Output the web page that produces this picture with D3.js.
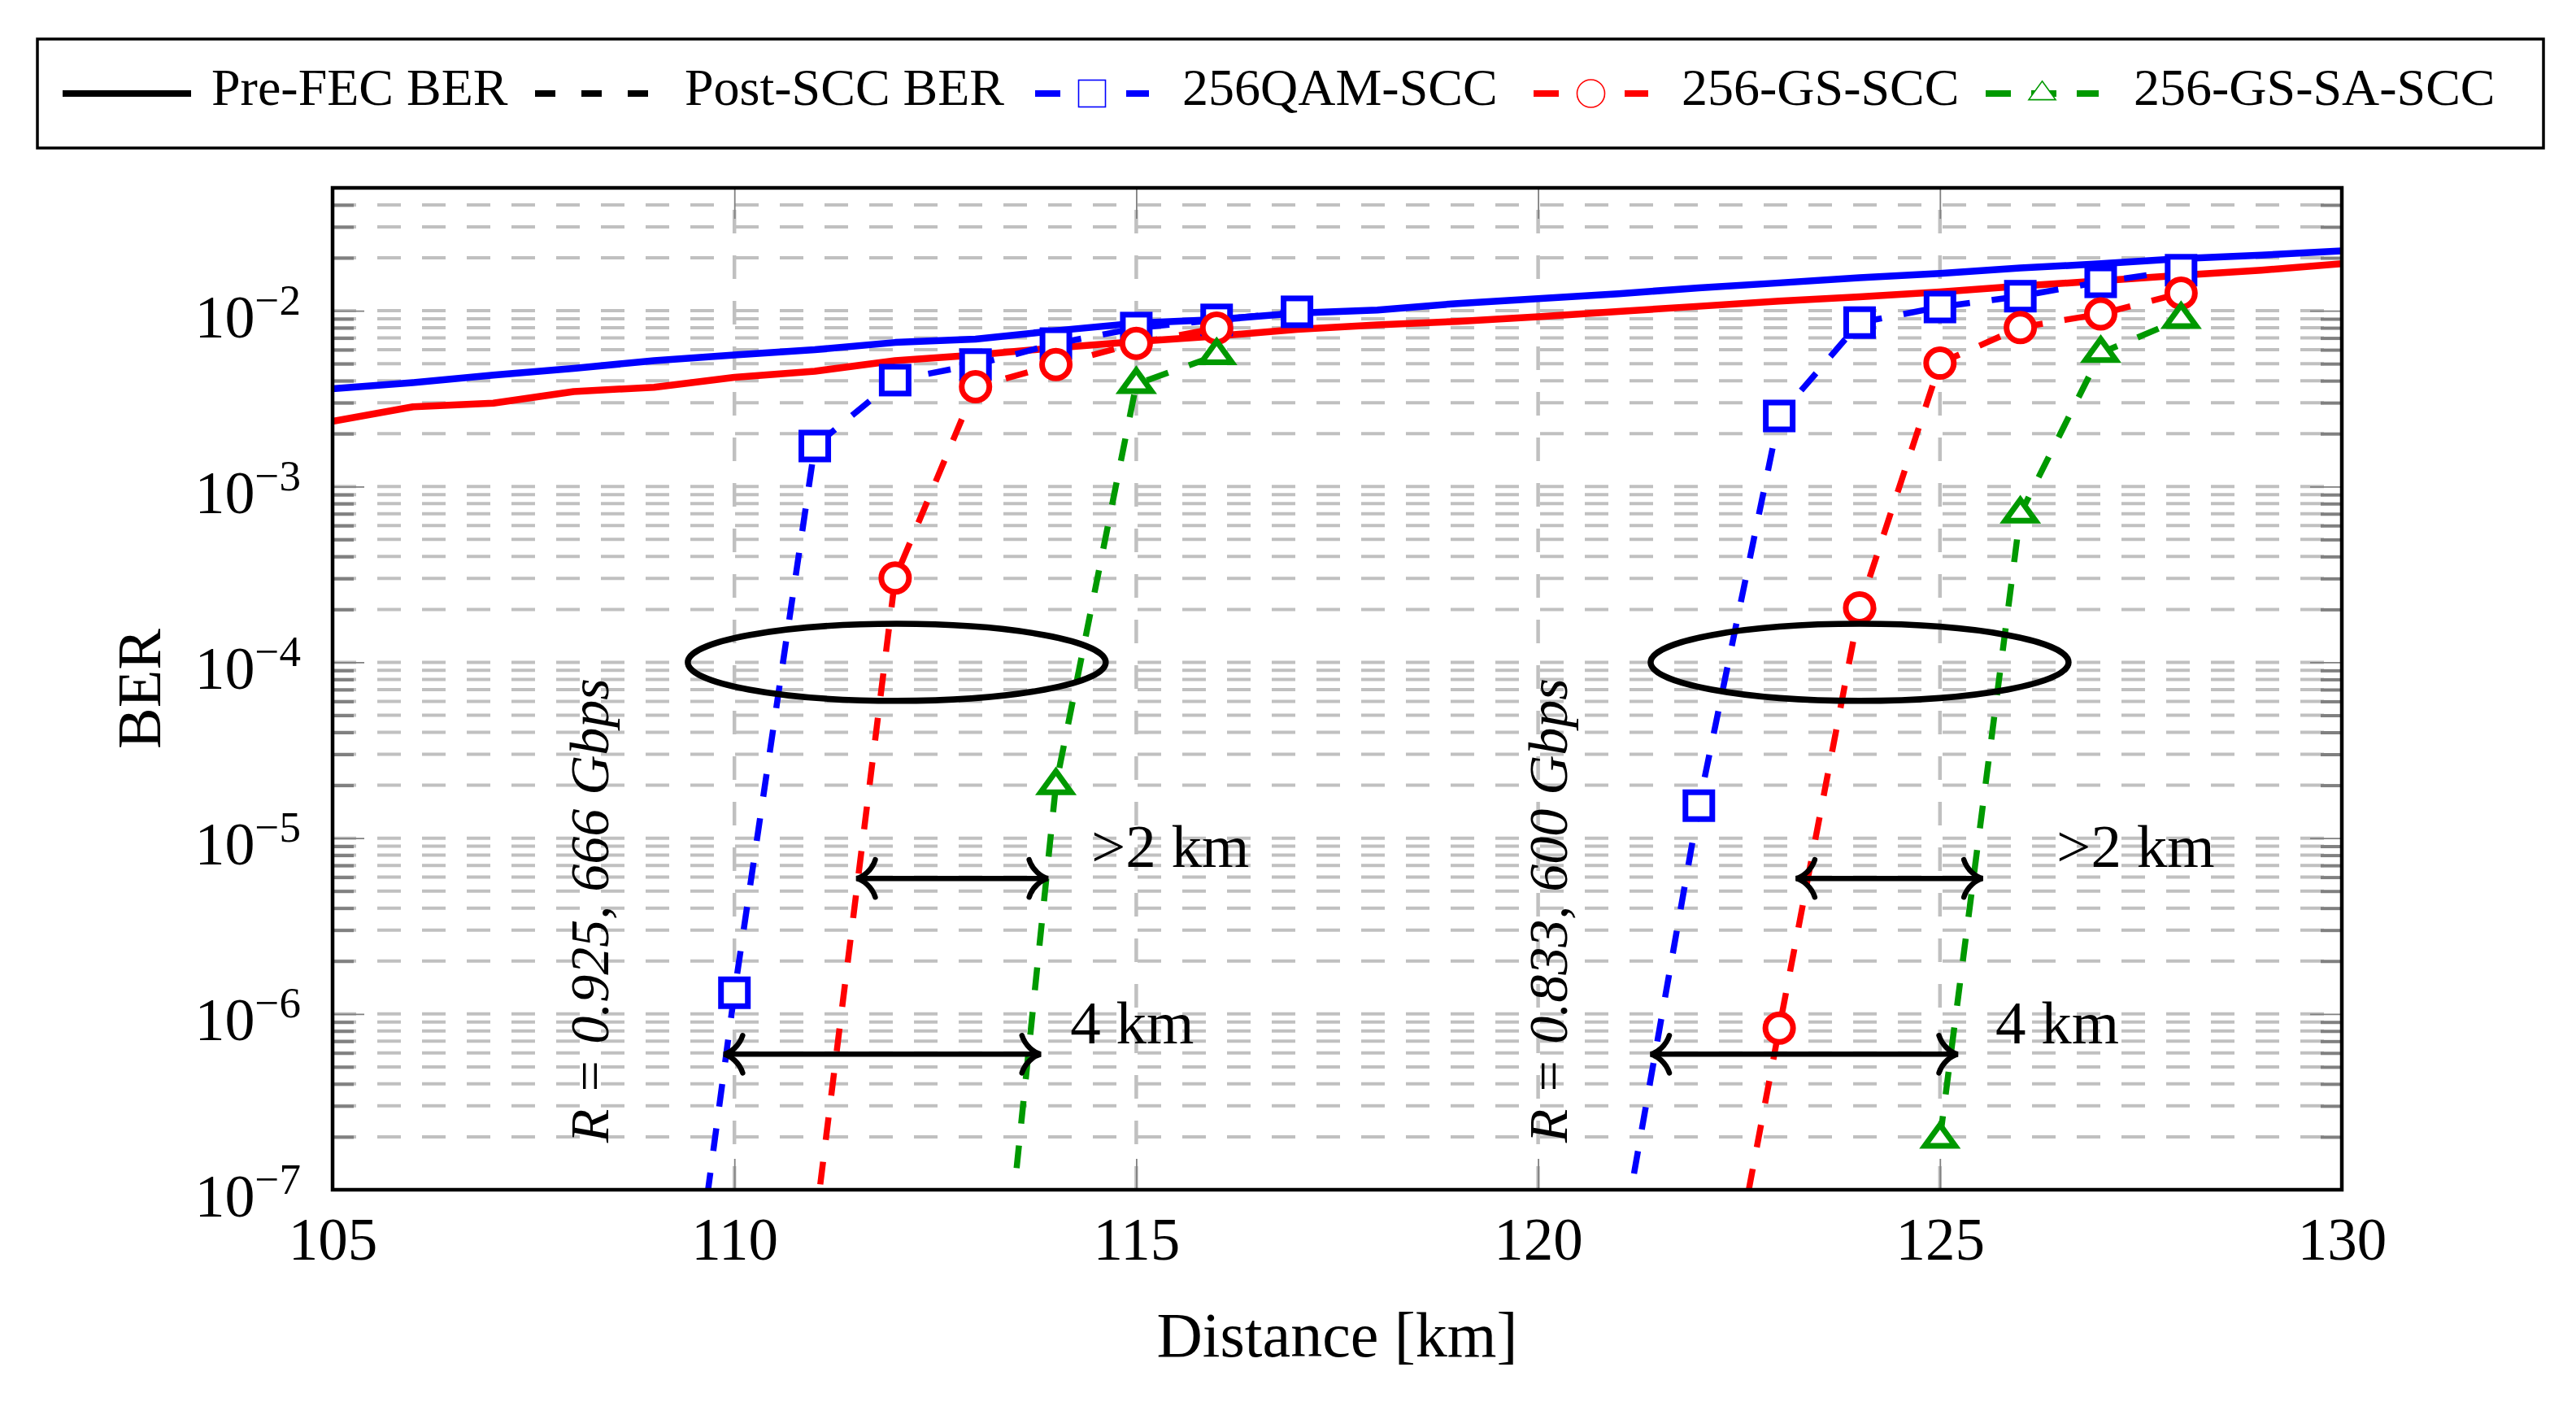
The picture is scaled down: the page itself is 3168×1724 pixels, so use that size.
<!DOCTYPE html>
<html><head><meta charset="utf-8">
<script src="https://cdn.jsdelivr.net/npm/d3@7"></script>
<style>
body{margin:0;background:#fff;}
text{font-family:"Liberation Serif","Times New Roman",serif;fill:#000;}
</style>
</head><body>
<svg id="c" width="3168" height="1724"></svg>
<script>
// ---------------- data ----------------
const xTicks = [105, 110, 115, 120, 125, 130];
const yMajorTicks = [1e-7, 1e-6, 1e-5, 1e-4, 1e-3, 1e-2];

// Pre-FEC BER (solid)
const preFecDist = [105,106,107,108,109,110,111,112,113,114,115,116,117,118,119,120,121,122,123,124,125,126,127,128,129,130];
const preFecQAM  = [3.6e-3,3.9e-3,4.3e-3,4.7e-3,5.2e-3,5.6e-3,6.0e-3,6.6e-3,6.9e-3,7.7e-3,8.5e-3,8.9e-3,9.7e-3,1.01e-2,1.1e-2,1.17e-2,1.25e-2,1.35e-2,1.44e-2,1.54e-2,1.63e-2,1.75e-2,1.85e-2,1.98e-2,2.07e-2,2.19e-2];
const preFecGS   = [2.35e-3,2.84e-3,2.98e-3,3.47e-3,3.67e-3,4.18e-3,4.53e-3,5.2e-3,5.6e-3,6.15e-3,6.68e-3,7.17e-3,7.83e-3,8.3e-3,8.7e-3,9.25e-3,9.9e-3,1.06e-2,1.135e-2,1.2e-2,1.28e-2,1.38e-2,1.48e-2,1.59e-2,1.7e-2,1.85e-2];

// Post-SCC BER (dashed), rate R = 0.925
const qamR1Dist = [109,110,111,112,113,114,115,116,117];
const qamR1BER  = [5e-10,1.32e-6,1.7e-3,4.03e-3,4.94e-3,6.5e-3,7.97e-3,8.87e-3,9.86e-3];
const gsR1Dist  = [111,112,113,114,115,116];
const gsR1BER   = [6e-8,3.02e-4,3.7e-3,4.94e-3,6.52e-3,7.97e-3];
const gssaR1Dist = [113,114,115,116];
const gssaR1BER  = [7e-10,2.0e-5,3.82e-3,5.58e-3];

// Post-SCC BER (dashed), rate R = 0.833
const qamR2Dist = [121,122,123,124,125,126,127,128];
const qamR2BER  = [3.9e-8,1.53e-5,2.52e-3,8.56e-3,1.05e-2,1.21e-2,1.46e-2,1.7e-2];
const gsR2Dist  = [122,123,124,125,126,127,128];
const gsR2BER   = [3.1e-9,8.3e-7,2.04e-4,5.03e-3,8.03e-3,9.6e-3,1.26e-2];
const gssaR2Dist = [125,126,127,128];
const gssaR2BER  = [1.95e-7,7.0e-4,5.75e-3,8.96e-3];

// annotations (data units)
const ellipseCenters = [[112.02, 1e-4], [124.0, 1e-4]];
const ellipseHalfWidthKm = 2.6, ellipseHalfHeightDec = 0.219;
const arrows = [
  {from:111.52, to:113.90, ber:5.9e-6},
  {from:109.87, to:113.81, ber:5.9e-7},
  {from:123.21, to:125.53, ber:5.9e-6},
  {from:121.40, to:125.22, ber:5.9e-7}
];
const arrowLabels = [
  {text:">2 km", km:114.44, ber:6.85e-6},
  {text:"4 km",  km:114.18, ber:6.8e-7},
  {text:">2 km", km:126.45, ber:6.85e-6},
  {text:"4 km",  km:125.69, ber:6.8e-7}
];
const rateLabels = [
  {text:"R = 0.925, 666 Gbps", km:108.43, ber:1.85e-7},
  {text:"R = 0.833, 600 Gbps", km:120.36, ber:1.85e-7}
];

const legendLabels = ["Pre-FEC BER","Post-SCC BER","256QAM-SCC","256-GS-SCC","256-GS-SA-SCC"];
const BLUE="#0000ff", RED="#ff0000", GREEN="#009900";

// ---------------- drawing ----------------
const svg = d3.select("#c");
const X0=409, X1=2880, Y0=1463, Y1=231;
const x = d3.scaleLinear().domain([105,130]).range([X0,X1]);
const y = d3.scaleLog().domain([1e-7,5e-2]).range([Y0,Y1]);

const yMinor = [];
yMajorTicks.forEach(m => { for (let k=2;k<=9;k++){ const v=m*k; if (v<5e-2) yMinor.push(v);} });
const yGrid = yMajorTicks.slice(1).concat(yMinor);

// grid
const grid = svg.append("g");
grid.selectAll("line.h").data(yGrid).join("line")
  .attr("x1",X0).attr("x2",X1).attr("y1",d=>y(d)).attr("y2",d=>y(d))
  .attr("stroke","#c0c0c0").attr("stroke-width",4).attr("stroke-dasharray","29,26");
grid.selectAll("line.v").data(xTicks.slice(1,-1)).join("line")
  .attr("x1",d=>x(d)).attr("x2",d=>x(d)).attr("y1",Y0).attr("y2",Y1)
  .attr("stroke","#c0c0c0").attr("stroke-width",4.5).attr("stroke-dasharray","29,27");

// clip
svg.append("clipPath").attr("id","clip").append("rect")
  .attr("x",X0).attr("y",Y1).attr("width",X1-X0).attr("height",Y0-Y1);
const plot = svg.append("g").attr("clip-path","url(#clip)");

const line = d3.line().x(d=>x(d[0])).y(d=>y(d[1]));
const zip = (a,b)=>a.map((v,i)=>[v,b[i]]);

// pre-FEC solid
[[preFecQAM,BLUE],[preFecGS,RED]].forEach(([vals,col])=>{
  plot.append("path").datum(zip(preFecDist,vals)).attr("d",line)
    .attr("fill","none").attr("stroke",col).attr("stroke-width",8.5).attr("stroke-linejoin","round");
});

function marker(g, type, col, sw, s){
  if (type==="square") return g.append("rect").attr("x",-s).attr("y",-s).attr("width",2*s).attr("height",2*s)
      .attr("fill","#fff").attr("stroke",col).attr("stroke-width",sw);
  if (type==="circle") return g.append("circle").attr("r",s).attr("fill","#fff").attr("stroke",col).attr("stroke-width",sw);
  const hw=s*0.87, top=s*0.8, bot=s*0.4;
  return g.append("path").attr("d",`M0,${-top}L${hw},${bot}L${-hw},${bot}Z`)
      .attr("fill","#fff").attr("stroke",col).attr("stroke-width",sw).attr("stroke-linejoin","miter");
}

const post = [
  {d:qamR1Dist,v:qamR1BER,c:BLUE,m:"square",s:16.5},
  {d:qamR2Dist,v:qamR2BER,c:BLUE,m:"square",s:16.5},
  {d:gsR1Dist,v:gsR1BER,c:RED,m:"circle",s:17},
  {d:gsR2Dist,v:gsR2BER,c:RED,m:"circle",s:17},
  {d:gssaR1Dist,v:gssaR1BER,c:GREEN,m:"triangle",s:21.5},
  {d:gssaR2Dist,v:gssaR2BER,c:GREEN,m:"triangle",s:21.5}
];
post.forEach(p=>{
  const pts = zip(p.d,p.v);
  plot.append("path").datum(pts).attr("d",line).attr("fill","none")
    .attr("stroke",p.c).attr("stroke-width",7.5).attr("stroke-dasharray","28,27");
  pts.forEach(pt=>{
    const g = plot.append("g").attr("transform",`translate(${x(pt[0])},${y(pt[1])})`);
    marker(g,p.m,p.c,7,p.s);
  });
});

// ellipses
const ann = svg.append("g");
ellipseCenters.forEach(([cx,cy])=>{
  ann.append("ellipse").attr("cx",x(cx)).attr("cy",y(cy))
    .attr("rx",x(cx+ellipseHalfWidthKm)-x(cx))
    .attr("ry",y(cy)-y(cy*Math.pow(10,ellipseHalfHeightDec)))
    .attr("fill","none").attr("stroke","#000").attr("stroke-width",7.5);
});

// arrows
function head(tx,ty,dir){ // dir: +1 tip pointing left (barbs go right), -1 pointing right
  const b=23*dir;
  return `M${tx+b},${ty-23}C${tx+b*0.82},${ty-10} ${tx+b*0.35},${ty-2} ${tx},${ty}`+
         `C${tx+b*0.35},${ty+2} ${tx+b*0.82},${ty+10} ${tx+b},${ty+23}`;
}
arrows.forEach(a=>{
  const xa=x(a.from), xb=x(a.to), yy=y(a.ber);
  ann.append("line").attr("x1",xa).attr("x2",xb).attr("y1",yy).attr("y2",yy)
    .attr("stroke","#000").attr("stroke-width",6.5);
  ann.append("path").attr("d",head(xa,yy,1)).attr("fill","none").attr("stroke","#000").attr("stroke-width",6.5).attr("stroke-linecap","round");
  ann.append("path").attr("d",head(xb,yy,-1)).attr("fill","none").attr("stroke","#000").attr("stroke-width",6.5).attr("stroke-linecap","round");
});
arrowLabels.forEach(l=>{
  ann.append("text").attr("x",x(l.km)).attr("y",y(l.ber)).attr("font-size",75).text(l.text);
});
rateLabels.forEach(l=>{
  ann.append("text").attr("transform",`translate(${x(l.km)},${y(l.ber)}) rotate(-90)`)
    .attr("font-size",68).attr("font-style","italic").text(l.text);
});

// axes (ticks inward)
const tickCol="#808080";
const gx = svg.append("g").attr("transform",`translate(0,${Y0})`)
  .call(d3.axisBottom(x).tickValues(xTicks).tickSize(-38).tickPadding(34).tickFormat(d3.format("d")));
gx.selectAll(".tick text").attr("font-size",73).attr("font-family","Liberation Serif");
const gxt = svg.append("g").attr("transform",`translate(0,${Y1})`)
  .call(d3.axisTop(x).tickValues(xTicks).tickSize(-38).tickFormat(""));
const gy = svg.append("g").attr("transform",`translate(${X0},0)`)
  .call(d3.axisLeft(y).tickValues(yMajorTicks).tickSize(-39).tickPadding(39));
gy.selectAll(".tick text").each(function(d){
  const t=d3.select(this);
  t.text(null).attr("dy",null).attr("y",32).attr("x",-39).attr("font-size",74).attr("font-family","Liberation Serif");
  t.append("tspan").text("10");
  t.append("tspan").attr("dy",-28).attr("font-size",53).text("\u2212"+Math.round(-Math.log10(d)));
});
const gym = svg.append("g").attr("transform",`translate(${X0},0)`)
  .call(d3.axisLeft(y).tickValues(yMinor).tickSize(-26).tickFormat(""));
const gyr = svg.append("g").attr("transform",`translate(${X1},0)`)
  .call(d3.axisRight(y).tickValues(yMajorTicks).tickSize(-39).tickFormat(""));
const gyrm = svg.append("g").attr("transform",`translate(${X1},0)`)
  .call(d3.axisRight(y).tickValues(yMinor).tickSize(-26).tickFormat(""));
[gx,gxt,gy,gyr].forEach(g=>{ g.select(".domain").remove(); g.selectAll(".tick line").attr("stroke",tickCol).attr("stroke-width",1.8); });
[gym,gyrm].forEach(g=>{ g.select(".domain").remove(); g.selectAll(".tick line").attr("stroke",tickCol).attr("stroke-width",4); });

// frame
svg.append("rect").attr("x",X0).attr("y",Y1).attr("width",X1-X0).attr("height",Y0-Y1)
  .attr("fill","none").attr("stroke","#000").attr("stroke-width",4.5);

// axis titles
svg.append("text").attr("x",(X0+X1)/2).attr("y",1668).attr("text-anchor","middle").attr("font-size",78).text("Distance [km]");
svg.append("text").attr("transform",`translate(197,${(Y0+Y1)/2}) rotate(-90)`).attr("text-anchor","middle").attr("font-size",76).text("BER");

// legend
const leg = svg.append("g");
leg.append("rect").attr("x",46).attr("y",48).attr("width",3082).attr("height",134)
  .attr("fill","#fff").attr("stroke","#000").attr("stroke-width",3.5);
const legItems = [
  {x0:77,  x1:235,  tx:260,  col:"#000", dash:null,    m:null},
  {x0:658, x1:798,  tx:842,  col:"#000", dash:"25,32", m:null},
  {x0:1273,x1:1413, tx:1454, col:BLUE,   dash:"31,25", m:"square",s:16.5},
  {x0:1886,x1:2027, tx:2068, col:RED,    dash:"31,25", m:"circle",s:17},
  {x0:2442,x1:2581, tx:2624, col:GREEN,  dash:"31,25", m:"triangle",s:19}
];
const LY=115;
legItems.forEach((it,i)=>{
  const l = leg.append("line").attr("x1",it.x0).attr("x2",it.x1).attr("y1",LY).attr("y2",LY)
    .attr("stroke",it.col).attr("stroke-width",8);
  if (it.dash) l.attr("stroke-dasharray",it.dash);
  if (it.m){
    const g = leg.append("g").attr("transform",`translate(${(it.x0+it.x1)/2},${LY})`);
    marker(g,it.m,it.col,1.6,it.s);
  }
  leg.append("text").attr("x",it.tx).attr("y",129).attr("font-size",64).text(legendLabels[i]);
});
</script>
</body></html>
